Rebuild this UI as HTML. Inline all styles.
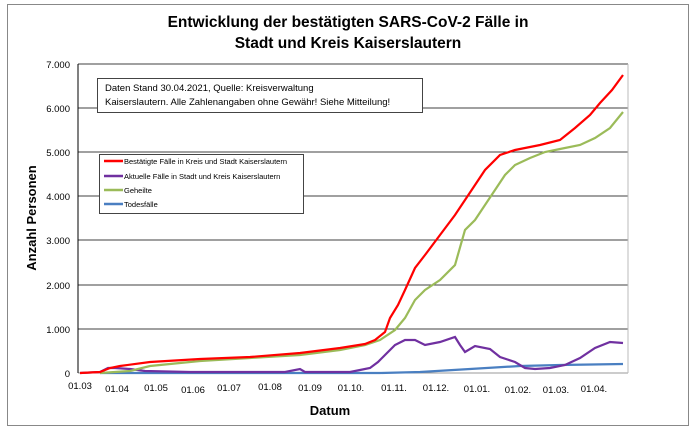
<!DOCTYPE html>
<html><head><meta charset="utf-8"><style>
body{margin:0;background:#fff;width:696px;height:431px;overflow:hidden;font-family:"Liberation Sans",sans-serif}
</style></head><body>
<svg width="696" height="431" xmlns="http://www.w3.org/2000/svg" font-family="Liberation Sans, sans-serif">
<rect x="7.5" y="4.5" width="681" height="421" fill="#fff" stroke="#888"/>
<text x="348" y="27" text-anchor="middle" font-size="15.5" font-weight="bold">Entwicklung der bestätigten SARS-CoV-2 Fälle in</text>
<text x="348" y="48" text-anchor="middle" font-size="15.5" font-weight="bold">Stadt und Kreis Kaiserslautern</text>
<g stroke="#000" stroke-width="0.8">
<line x1="78" y1="64" x2="628" y2="64"/><line x1="78" y1="108" x2="628" y2="108"/>
<line x1="78" y1="152" x2="628" y2="152"/><line x1="78" y1="196" x2="628" y2="196"/>
<line x1="78" y1="240" x2="628" y2="240"/><line x1="78" y1="285" x2="628" y2="285"/>
<line x1="78" y1="329" x2="628" y2="329"/>
</g>
<line x1="78" y1="373" x2="628" y2="373" stroke="#999"/>
<line x1="78" y1="64" x2="78" y2="373" stroke="#000"/>
<line x1="628" y1="64" x2="628" y2="373" stroke="#bbb"/>
<g font-size="9.5" text-anchor="end">
<text x="70" y="68">7.000</text><text x="70" y="112">6.000</text><text x="70" y="156">5.000</text>
<text x="70" y="200">4.000</text><text x="70" y="244">3.000</text><text x="70" y="289">2.000</text>
<text x="70" y="333">1.000</text><text x="70" y="377">0</text>
</g>
<g font-size="9.5" text-anchor="middle">
<text x="80" y="389">01.03</text><text x="117" y="392">01.04</text><text x="156" y="391">01.05</text>
<text x="193" y="393">01.06</text><text x="229" y="391">01.07</text><text x="270" y="390">01.08</text>
<text x="310" y="391">01.09</text><text x="351" y="391">01.10.</text><text x="394" y="391">01.11.</text>
<text x="436" y="391">01.12.</text><text x="477" y="392">01.01.</text><text x="518" y="393">01.02.</text>
<text x="556" y="393">01.03.</text><text x="594" y="392">01.04.</text>
</g>
<text x="330" y="415" text-anchor="middle" font-size="13" font-weight="bold">Datum</text>
<text transform="translate(36,218) rotate(-90)" text-anchor="middle" font-size="13" font-weight="bold">Anzahl Personen</text>
<polyline fill="none" stroke="#4a7fc1" stroke-width="2.2" points="100,373 380,373 420,372 470,369 520,366 560,365 623,364"/>
<polyline fill="none" stroke="#7030a0" stroke-width="2.2" points="80,373 100,372 108,368 115,368 130,369 145,371 190,372 240,372 285,372 300,369 305,372 350,372 360,370 370,368 378,362 385,355 395,345 405,340 415,340 425,345 440,342 455,337 460,345 465,352 475,346 490,349 500,357 515,362 525,368 535,369 550,368 565,365 580,358 595,348 610,342 623,343"/>
<polyline fill="none" stroke="#9bbb59" stroke-width="2.2" points="100,373 130,371 150,366 200,361 250,358 300,355 340,350 365,345 380,340 395,330 405,318 415,300 425,290 440,280 455,265 465,230 475,220 485,205 495,190 505,175 515,165 530,158 545,152 560,149 580,145 595,138 610,128 623,112"/>
<polyline fill="none" stroke="#ff0000" stroke-width="2.2" points="80,373 100,372 110,368 120,366 150,362 200,359 250,357 300,353 340,348 365,344 375,340 385,332 390,318 398,305 405,290 415,268 425,255 440,235 455,215 465,200 475,185 485,170 500,155 515,150 540,145 560,140 575,128 590,115 600,103 612,90 623,75"/>
<rect x="97.5" y="78.5" width="325" height="34" fill="#fff" stroke="#444"/>
<text x="105" y="91" font-size="9.5">Daten Stand 30.04.2021, Quelle: Kreisverwaltung</text>
<text x="105" y="105" font-size="9.5">Kaiserslautern. Alle Zahlenangaben ohne Gewähr! Siehe Mitteilung!</text>
<rect x="99.5" y="154.5" width="204" height="59" fill="#fff" stroke="#444"/>
<g stroke-width="2.5">
<line x1="104" y1="161" x2="123" y2="161" stroke="#ff0000"/>
<line x1="104" y1="176" x2="123" y2="176" stroke="#7030a0"/>
<line x1="104" y1="190" x2="123" y2="190" stroke="#9bbb59"/>
<line x1="104" y1="204" x2="123" y2="204" stroke="#4a7fc1"/>
</g>
<g font-size="7.5">
<text x="124" y="164">Bestätigte Fälle in Kreis und Stadt Kaiserslautern</text>
<text x="124" y="179">Aktuelle Fälle in Stadt und Kreis Kaiserslautern</text>
<text x="124" y="193">Geheilte</text>
<text x="124" y="207">Todesfälle</text>
</g>
</svg>
</body></html>
